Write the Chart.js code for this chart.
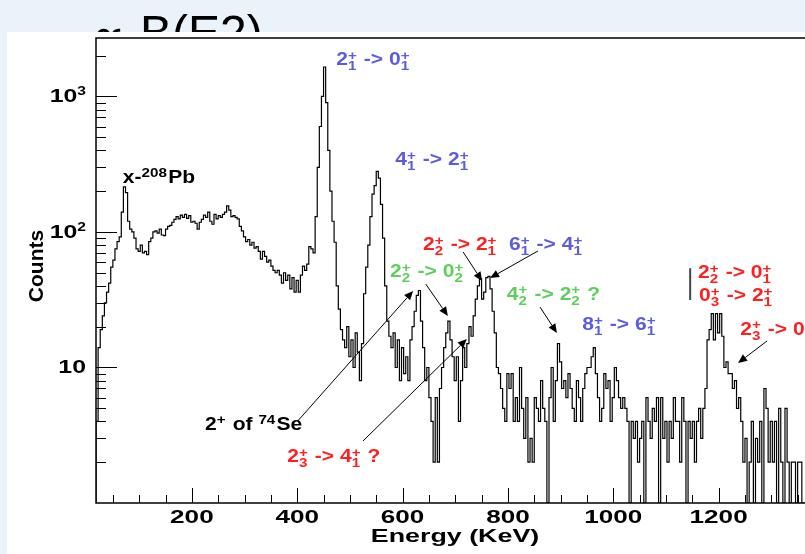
<!DOCTYPE html>
<html>
<head>
<meta charset="utf-8">
<script src="https://cdn.jsdelivr.net/npm/chart.js@4"></script>
<style>
  body { margin: 0; background: #eaf2fa; }
  canvas { display: block; }
</style>
</head>
<body>
<canvas id="spectrum" width="805" height="554"></canvas>
<script>
// histogram binning (keV)
const binStart = 18;
const binWidth = 4;

// counts per 4 keV bin
const countsLow = [ // 18 .. 398 keV
  1, 4, 14, 19, 24, 30, 36, 42, 55, 62,
  75, 85, 92, 140, 215, 195, 120, 105, 100, 90,
  75, 72, 80, 70, 72, 68, 85, 90, 100, 102,
  98, 105, 95, 94, 105, 110, 112, 118, 124, 130,
  125, 133, 128, 135, 126, 132, 118, 120, 116, 105,
  118, 124, 133, 128, 140, 120, 114, 135, 125, 132,
  128, 135, 140, 156, 145, 130, 132, 128, 125, 110,
  102, 92, 85, 88, 80, 84, 76, 78, 72, 63,
  72, 66, 60, 62, 56, 52, 50, 52, 48, 42,
  50, 44, 48, 38, 46, 36
];
const countsMid = [ // 402 .. 786 keV
  44, 36, 48, 56, 52, 58, 78, 75, 70, 130,
  300, 600, 1000, 1650, 900, 400, 200, 120, 84, 40,
  27, 19, 16, 14, 20, 12, 16, 10, 18, 13,
  8, 15, 35, 55, 80, 130, 190, 220, 280, 250,
  160, 90, 40, 22, 17, 14, 18, 10, 16, 8,
  14, 9, 12, 8, 16, 20, 26, 34, 37, 22,
  14, 8, 10, 6, 4, 2, 6, 2, 7, 10,
  14, 18, 22, 16, 12, 8, 12, 4, 8, 14,
  10, 15, 20, 17, 24, 32, 40, 45, 32, 36,
  46, 47, 38, 26, 18, 10, 9
];
const countsHigh = [ // 790 .. 1362 keV
  7, 5, 4, 9, 7, 9, 4, 6, 4, 10,
  5, 3, 6, 2, 3, 2, 6, 5, 4, 8,
  5, 4, 1, 6, 10, 4, 8, 15, 11, 7,
  8, 6, 9, 7, 5, 4, 8, 6, 4, 7,
  9, 10, 10, 12, 14, 9, 6, 4, 5, 9,
  7, 8, 4, 6, 10, 8, 6, 5, 6, 5,
  4, 1, 4, 3, 4, 2, 3, 4, 1, 6,
  4, 3, 5, 4, 6, 1, 6, 3, 4, 2,
  4, 3, 6, 4, 4, 2, 6, 4, 1, 4,
  3, 4, 2, 4, 5, 3, 5, 7, 16, 19,
  25, 16, 25, 18, 25, 17, 10, 11, 9, 9,
  7, 8, 5, 6, 4, 2, 3, 1, 2, 4,
  1, 3, 2, 4, 1, 7, 5, 2, 4, 2,
  4, 1, 5, 2, 1, 5, 2, 1, 2, 2,
  1, 2, 2, 1
];

// axis ticks
const xMajorTicks = [200, 400, 600, 800, 1000, 1200];
const xTickLabels = ["200", "400", "600", "800", "1000", "1200"];
const xMinorStep = 50;
const yMajorTicks = [10, 100, 1000];
const yTickLabels = ["10", "10^2", "10^3"];

// transition labels: [text, energy, counts, colour]   {sup|sub}
const labels = [
  ["2{+|1} -> 0{+|1}", 474, 1700, "blue"],
  ["4{+|1} -> 2{+|1}", 586, 312, "blue"],
  ["x-{208|}Pb", 69, 230, "black"],
  ["2{+|2} -> 2{+|1}", 639, 73.6, "red"],
  ["6{+|1} -> 4{+|1}", 802, 73.6, "blue"],
  ["2{+|2} -> 0{+|2}", 576, 46.5, "green"],
  ["4{+|2} -> 2{+|2} ?", 798, 31.5, "green"],
  ["8{+|1} -> 6{+|1}", 941, 18.9, "blue"],
  ["2{+|2} -> 0{+|1}", 1161, 45.7, "red"],
  ["0{+|3} -> 2{+|1}", 1163, 30.9, "red"],
  ["2{+|3} -> 0{+|2}", 1241, 17.4, "red"],
  ["2{+|} of {74|}Se", 225, 3.46, "black"],
  ["2{+|3} -> 4{+|1} ?", 381, 2.0, "red"]
];
// arrows: [fromE, fromCounts, toE, toCounts]
const arrows = [
  [715, 71.1, 751, 43.5],
  [857, 72.4, 766, 45.7],
  [644, 41.3, 686, 24.0],
  [401, 4.03, 620, 36.7],
  [525, 2.87, 722, 16.2],
  [861, 27.9, 893, 18.0],
  [1292, 15.7, 1237, 10.8]
];

const colours = { blue: "#5c5cdc", red: "#ff1f1f", green: "#5ccf5c", black: "#000000" };
const FONT = "'Liberation Sans', Arial, sans-serif";

const counts = [...countsLow, ...countsMid, ...countsHigh];
const points = counts.map((c, i) => ({ x: binStart + i * binWidth, y: c }));
points.push({ x: binStart + counts.length * binWidth, y: counts[counts.length - 1] });

function stretchedText(ctx, text, x, y, font, sx, align) {
  ctx.save();
  ctx.font = font;
  const w = ctx.measureText(text).width * sx;
  let left = x;
  if (align === "center") left = x - w / 2;
  if (align === "right") left = x - w;
  ctx.translate(left, y);
  ctx.scale(sx, 1);
  ctx.textAlign = "left";
  ctx.textBaseline = "alphabetic";
  ctx.fillText(text, 0, 0);
  ctx.restore();
}

// draws "2{+|1} -> 0{+|1}" style labels with stacked sup/sub
function drawLevelText(ctx, str, x, y, colour) {
  const big = "bold 18px " + FONT;
  const small = "bold 13px " + FONT;
  ctx.save();
  ctx.translate(x, y);
  ctx.scale(1.17, 1);
  ctx.fillStyle = colour;
  ctx.textBaseline = "alphabetic";
  ctx.textAlign = "left";
  let cx = 0;
  let last = 0;
  const re = /\{([^|}]*)\|([^}]*)\}/g;
  let m;
  while ((m = re.exec(str))) {
    const plain = str.slice(last, m.index);
    ctx.font = big;
    ctx.fillText(plain, cx, 0);
    cx += ctx.measureText(plain).width;
    ctx.font = small;
    if (m[1]) ctx.fillText(m[1], cx, -5.5);
    if (m[2]) ctx.fillText(m[2], cx, 5);
    cx += Math.max(ctx.measureText(m[1]).width, ctx.measureText(m[2]).width) + 1;
    last = re.lastIndex;
  }
  ctx.font = big;
  ctx.fillText(str.slice(last), cx, 0);
  ctx.restore();
}

function drawArrow(ctx, x1, y1, x2, y2) {
  const a = Math.atan2(y2 - y1, x2 - x1);
  const len = 9, half = 4;
  ctx.save();
  ctx.strokeStyle = "#000";
  ctx.fillStyle = "#000";
  ctx.lineWidth = 1;
  ctx.beginPath();
  ctx.moveTo(x1, y1);
  ctx.lineTo(x2 - Math.cos(a) * len, y2 - Math.sin(a) * len);
  ctx.stroke();
  ctx.beginPath();
  ctx.moveTo(x2, y2);
  ctx.lineTo(x2 - Math.cos(a) * len - Math.sin(a) * half, y2 - Math.sin(a) * len + Math.cos(a) * half);
  ctx.lineTo(x2 - Math.cos(a) * len + Math.sin(a) * half, y2 - Math.sin(a) * len - Math.cos(a) * half);
  ctx.closePath();
  ctx.fill();
  ctx.restore();
}

const slideBackground = {
  id: "slideBackground",
  beforeDraw(chart) {
    const ctx = chart.ctx;
    ctx.save();
    ctx.fillStyle = "#eaf2fa";
    ctx.fillRect(0, 0, chart.width, chart.height);
    ctx.fillStyle = "#000";
    ctx.font = "48px " + FONT;
    ctx.textBaseline = "alphabetic";
    ctx.fillText("\u221D", 91, 52);
    ctx.fillText("B(E2)", 140, 49);
    ctx.fillStyle = "#ffffff";
    ctx.fillRect(7, 32, chart.width - 7, chart.height - 32);
    ctx.restore();
  }
};

const rootAxes = {
  id: "rootAxes",
  afterDraw(chart) {
    const ctx = chart.ctx;
    const xs = chart.scales.x, ys = chart.scales.y;
    const a = chart.chartArea;
    ctx.save();
    ctx.strokeStyle = "#000";
    ctx.lineWidth = 1.5;
    ctx.beginPath();
    ctx.moveTo(a.right, a.top);
    ctx.lineTo(a.left, a.top);
    ctx.lineTo(a.left, a.bottom);
    ctx.lineTo(a.right, a.bottom);
    ctx.stroke();

    // x ticks
    ctx.lineWidth = 1;
    ctx.beginPath();
    for (let e = xMinorStep; e < xs.max; e += xMinorStep) {
      const px = Math.round(xs.getPixelForValue(e)) + 0.5;
      const len = xMajorTicks.includes(e) ? 15 : 8;
      ctx.moveTo(px, a.bottom);
      ctx.lineTo(px, a.bottom - len);
    }
    // y ticks
    for (let d = 1; d <= 1000; d *= 10) {
      for (let k = 1; k < 10; k++) {
        const v = d * k;
        if (v <= ys.min || v > ys.max) continue;
        const py = Math.round(ys.getPixelForValue(v)) + 0.5;
        const len = yMajorTicks.includes(v) ? 21 : 10;
        ctx.moveTo(a.left, py);
        ctx.lineTo(a.left + len, py);
      }
    }
    ctx.stroke();

    ctx.fillStyle = "#000";
    xMajorTicks.forEach((e, i) => {
      stretchedText(ctx, xTickLabels[i], xs.getPixelForValue(e), 522.5, "bold 18px " + FONT, 1.45, "center");
    });
    yMajorTicks.forEach((v, i) => {
      const [base, exp] = yTickLabels[i].split("^");
      const py = ys.getPixelForValue(v) + 6;
      let right = 86;
      if (exp) {
        ctx.font = "bold 12px " + FONT;
        const ew = ctx.measureText(exp).width * 1.3;
        stretchedText(ctx, exp, right, py - 7, "bold 12px " + FONT, 1.3, "right");
        right -= ew;
      }
      stretchedText(ctx, base, right, py, "bold 18px " + FONT, 1.38, "right");
    });

    stretchedText(ctx, "Energy (KeV)", 455, 541.5, "bold 18.5px " + FONT, 1.45, "center");
    ctx.save();
    ctx.translate(43, 266);
    ctx.rotate(-Math.PI / 2);
    ctx.font = "bold 21px " + FONT;
    ctx.textAlign = "center";
    ctx.fillText("Counts", 0, 0);
    ctx.restore();

    // annotations
    labels.forEach(([text, e, c, col]) => {
      drawLevelText(ctx, text, xs.getPixelForValue(e), ys.getPixelForValue(c), colours[col]);
    });
    arrows.forEach(([e1, c1, e2, c2]) => {
      drawArrow(ctx, xs.getPixelForValue(e1), ys.getPixelForValue(c1),
        xs.getPixelForValue(e2), ys.getPixelForValue(c2));
    });
    // bracket bar in front of the 1200 keV doublet labels
    ctx.strokeStyle = "#444";
    ctx.lineWidth = 2;
    ctx.beginPath();
    const bx = xs.getPixelForValue(1146);
    ctx.moveTo(bx, ys.getPixelForValue(54));
    ctx.lineTo(bx, ys.getPixelForValue(31.5));
    ctx.stroke();
    ctx.restore();
  }
};

new Chart(document.getElementById("spectrum"), {
  type: "line",
  data: {
    datasets: [{
      data: points,
      stepped: "after",
      borderColor: "#000",
      borderWidth: 1.2,
      pointRadius: 0,
      fill: false
    }]
  },
  options: {
    responsive: false,
    animation: false,
    layout: { padding: { left: 96, top: 38, right: 0, bottom: 51 } },
    plugins: { legend: { display: false }, tooltip: { enabled: false } },
    scales: {
      x: { type: "linear", min: 18, max: 1364, display: false },
      y: { type: "logarithmic", min: 1, max: 2700, display: false }
    }
  },
  plugins: [slideBackground, rootAxes]
});
</script>
</body>
</html>
